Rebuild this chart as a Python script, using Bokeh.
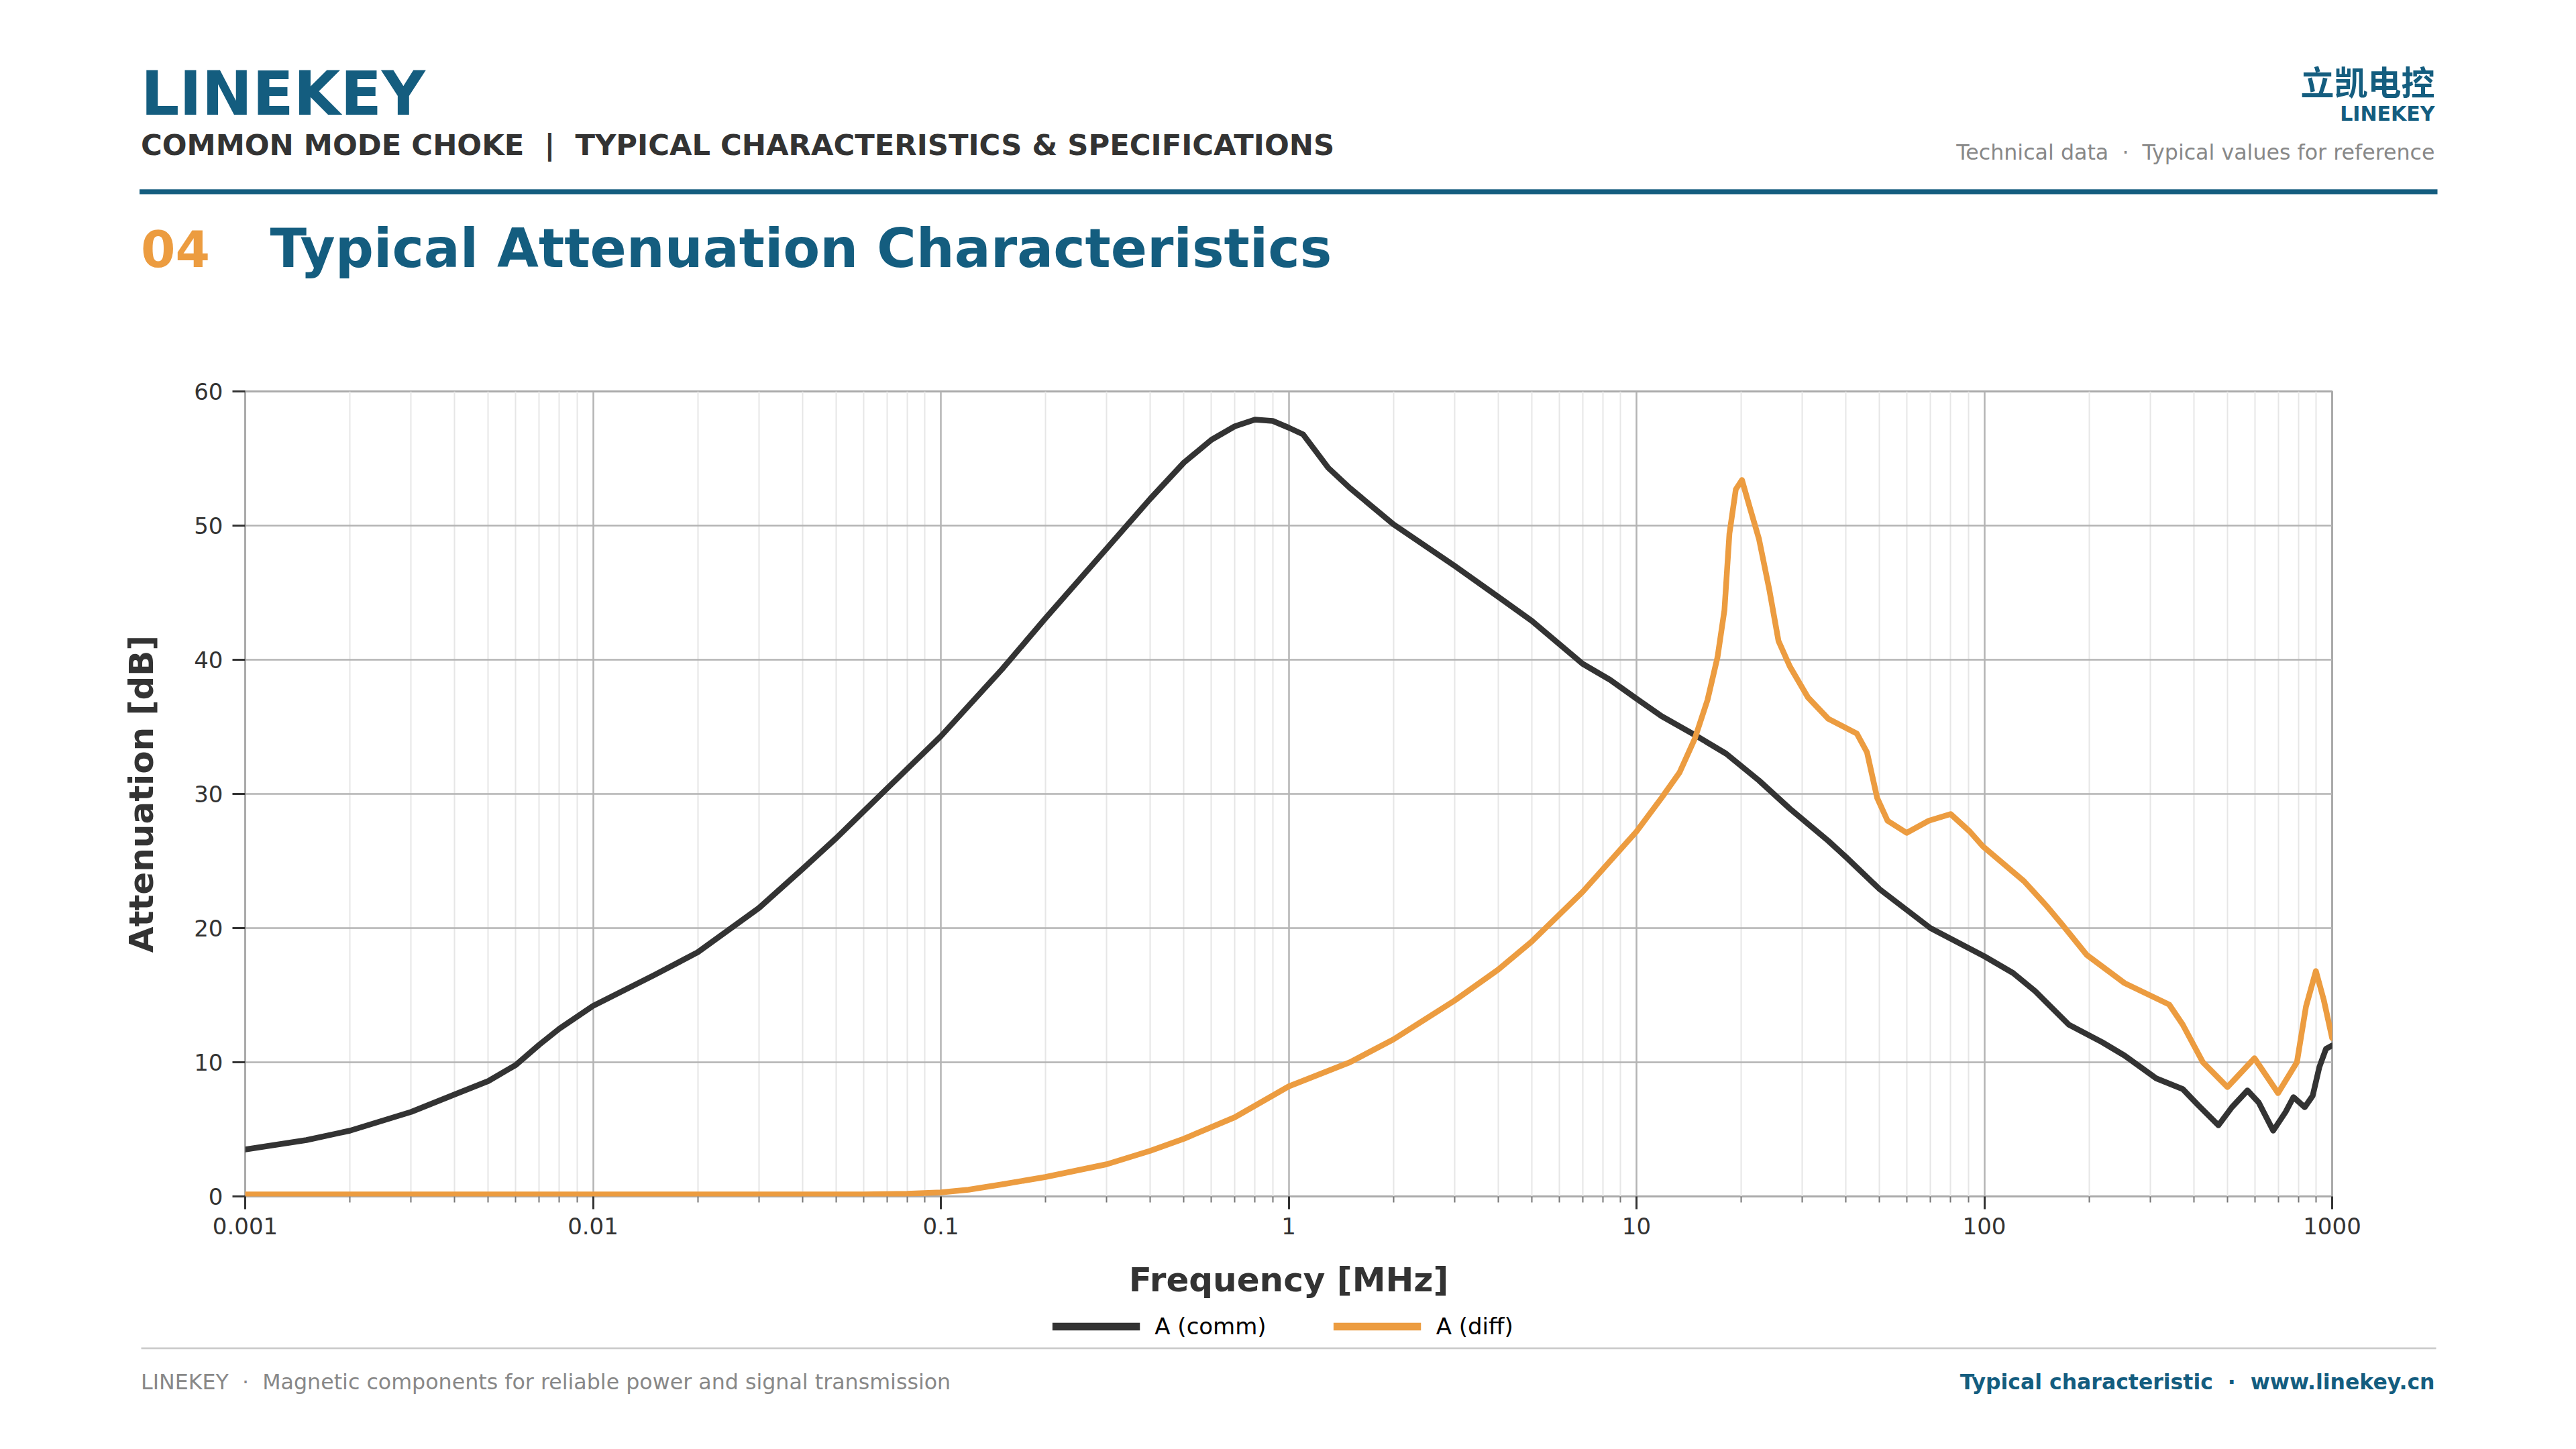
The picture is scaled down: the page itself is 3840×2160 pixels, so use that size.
from bokeh.plotting import figure
from bokeh.models import Range1d, FixedTicker, CustomJSTickFormatter, Legend, LegendItem
from bokeh.core.properties import value
from bokeh.embed import file_html
from bokeh.resources import INLINE

# ---------------- data ----------------
FREQ_COMM = [0.001, 0.0015, 0.002, 0.003, 0.004, 0.005, 0.006, 0.007, 0.008, 0.01,
             0.015, 0.02, 0.03, 0.04, 0.05, 0.07, 0.1, 0.15, 0.2, 0.3, 0.4, 0.5,
             0.6, 0.7, 0.8, 0.9, 1.0, 1.1, 1.2, 1.3, 1.5, 2, 3, 4, 5, 7, 8.4, 10,
             11.8, 14.7, 18.1, 22.5, 27.6, 35.6, 40, 50, 70, 100, 121, 140, 175, 218,
             253, 312, 372, 412, 471, 515, 571, 615, 677, 735, 774, 834, 879, 919,
             960, 1000]
ATT_COMM = [3.5, 4.2, 4.9, 6.3, 7.6, 8.6, 9.8, 11.3, 12.5, 14.2,
            16.5, 18.2, 21.5, 24.4, 26.7, 30.4, 34.3, 39.3, 43.1, 48.3, 52.0, 54.7,
            56.4, 57.4, 57.9, 57.8, 57.3, 56.8, 55.5, 54.3, 52.8, 50.1, 47.0, 44.7, 42.9, 39.7, 38.5, 37.1,
            35.8, 34.4, 33.0, 31.0, 28.9, 26.5, 25.3, 22.9, 20.0, 17.9, 16.65, 15.3, 12.8, 11.5,
            10.5, 8.8, 8.0, 6.8, 5.3, 6.65, 7.9, 7.0, 4.9, 6.3, 7.4, 6.65, 7.5, 9.65,
            11.0, 11.25]

FREQ_DIFF = [0.001, 0.003, 0.01, 0.03, 0.06, 0.08, 0.1, 0.12, 0.15, 0.2, 0.3, 0.4, 0.5,
             0.7, 1, 1.5, 2, 3, 4, 5, 7, 8.4, 10, 11.8, 13.3, 14.7, 16.0, 17.1, 17.9,
             18.5, 19.3, 20.1, 21.2, 22.5, 24.1, 25.6, 27.6, 31.1, 35.6, 43.0, 46.0,
             49.2, 52.7, 59.8, 69.2, 80, 90.8, 99, 130, 151, 167, 197, 253, 340, 372,
             425, 500, 598, 699, 792, 841, 898, 946, 1000]
ATT_DIFF = [0.15, 0.15, 0.15, 0.15, 0.15, 0.2, 0.3, 0.5, 0.9, 1.45, 2.4, 3.4, 4.3,
            5.9, 8.2, 10.0, 11.7, 14.6, 16.9, 19.0, 22.7, 25.0, 27.2, 29.7, 31.6, 34.1, 37.0, 40.2, 43.7,
            49.4, 52.7, 53.4, 51.3, 49.0, 45.2, 41.4, 39.5, 37.2, 35.6, 34.5, 33.1,
            29.7, 28.0, 27.1, 28.0, 28.5, 27.2, 26.1, 23.5, 21.65, 20.3, 18.0, 15.9, 14.3, 12.8,
            10.0, 8.15, 10.3, 7.7, 10.0, 14.15, 16.8, 14.65, 11.8]

SERIES_LABELS = ["A (comm)", "A (diff)"]
X_TICKS = [0.001, 0.01, 0.1, 1, 10, 100, 1000]
X_TICK_LABELS = ["0.001", "0.01", "0.1", "1", "10", "100", "1000"]
X_MINOR_MULT = [2, 3, 4, 5, 6, 7, 8, 9]
Y_TICKS = [0, 10, 20, 30, 40, 50, 60]

# ---------------- styles ----------------
TEAL = "#145D7F"
ORANGE = "#EC9C40"
DARK = "#333333"
GRAY_TXT = "#888888"
FONT = "DejaVu Sans"
CJK = "Noto Sans CJK SC"
NB = "\u00a0"

W = 3824
HEAD_H = 470
MAIN_H = 1485
FOOT_H = 2144 - HEAD_H - MAIN_H


def blank(h):
    f = figure(width=W, height=h, x_range=Range1d(0, W), y_range=Range1d(h, 0),
               min_border=0, toolbar_location=None, output_backend="svg",
               x_axis_location=None, y_axis_location=None)
    f.grid.visible = False
    f.outline_line_color = None
    f.background_fill_color = "white"
    f.border_fill_color = "white"
    return f


def txt(f, x, y, s, size, color, bold=False, align="left", font=FONT):
    f.text(x=[x], y=[y], text=[s], text_font=value(font), text_font_size=value(size),
           text_font_style="bold" if bold else "normal", text_color=color,
           text_align=align, text_baseline="alphabetic")


# ---------------- header ----------------
head = blank(HEAD_H)
txt(head, 209.5, 138.5, "LINEKEY", "90px", TEAL, bold=True)
txt(head, 209.5, 215.4, "COMMON MODE CHOKE " + NB + "|" + NB + " TYPICAL CHARACTERISTICS & SPECIFICATIONS",
    "43.3px", DARK, bold=True)
txt(head, 3629, 119, "立凯电控", "50px", TEAL, bold=True, align="right", font=CJK)
txt(head, 3629, 168.6, "LINEKEY", "30px", TEAL, bold=True, align="right")
txt(head, 3629, 226.8, "Technical data " + NB + "\u00b7" + NB + " Typical values for reference", "31.7px",
    GRAY_TXT, align="right")
head.quad(left=[207.5], right=[3633], top=[281.7], bottom=[289], fill_color=TEAL, line_color=None)
txt(head, 209.5, 370, "04", "74px", ORANGE, bold=True)
txt(head, 402, 370, "Typical Attenuation Characteristics", "80px", TEAL, bold=True)

# ---------------- main chart ----------------
p = figure(width=W, height=MAIN_H, x_axis_type="log",
           x_range=Range1d(X_TICKS[0], X_TICKS[-1]), y_range=Range1d(Y_TICKS[0], Y_TICKS[-1]),
           min_border_left=365, min_border_right=348, min_border_top=113, min_border_bottom=172,
           toolbar_location=None, output_backend="svg")
p.background_fill_color = "white"
p.border_fill_color = "white"
p.outline_line_color = "#aaaaaa"
p.outline_line_width = 3

minor = [m * t for t in X_TICKS[:-1] for m in X_MINOR_MULT]
p.xaxis.ticker = FixedTicker(ticks=X_TICKS, minor_ticks=minor)
p.xaxis.formatter = CustomJSTickFormatter(
    args=dict(vals=X_TICKS, labs=X_TICK_LABELS),
    code="""
    for (let i = 0; i < vals.length; i++) {
        if (Math.abs(Math.log10(vals[i]) - Math.log10(tick)) < 1e-6) return labs[i];
    }
    return '';
    """)
p.yaxis.ticker = FixedTicker(ticks=Y_TICKS, minor_ticks=[])

for ax in (p.xaxis, p.yaxis):
    ax.axis_line_color = None
    ax.major_tick_line_color = DARK
    ax.major_tick_line_width = 3
    ax.major_tick_out = 19
    ax.major_tick_in = 0
    ax.major_label_text_font = FONT
    ax.major_label_text_font_size = "34px"
    ax.major_label_text_color = DARK
    ax.axis_label_text_font = FONT
    ax.axis_label_text_font_size = "50px"
    ax.axis_label_text_font_style = "bold"
    ax.axis_label_text_color = DARK

p.xaxis.minor_tick_line_color = "#777777"
p.xaxis.minor_tick_line_width = 2
p.xaxis.minor_tick_out = 9
p.xaxis.minor_tick_in = 0
p.yaxis.minor_tick_line_color = None
p.xaxis.major_label_standoff = 12
p.yaxis.major_label_standoff = 14
p.xaxis.axis_label = "Frequency [MHz]"
p.yaxis.axis_label = "Attenuation [dB]"
p.xaxis.axis_label_standoff = 36
p.yaxis.axis_label_standoff = 46

p.xgrid.grid_line_color = "#b4b4b4"
p.xgrid.grid_line_width = 2.5
p.xgrid.minor_grid_line_color = "#e6e6e6"
p.xgrid.minor_grid_line_width = 2
p.ygrid.grid_line_color = "#b4b4b4"
p.ygrid.grid_line_width = 2.5

p.line(FREQ_COMM, ATT_COMM, line_color=DARK, line_width=8.5,
       line_join="round", line_cap="round")
p.line(FREQ_DIFF, ATT_DIFF, line_color=ORANGE, line_width=8.5,
       line_join="round", line_cap="round")

# ---------------- legend + footer (starts at y = 1955) ----------------
foot = blank(FOOT_H)
# hidden copies of the two series that only serve as legend keys
k_comm = foot.line(FREQ_COMM, ATT_COMM, line_color=DARK, line_width=11.6, visible=False)
k_diff = foot.line(FREQ_DIFF, ATT_DIFF, line_color=ORANGE, line_width=11.6, visible=False)
legend = Legend(items=[LegendItem(label=SERIES_LABELS[0], renderers=[k_comm]),
                       LegendItem(label=SERIES_LABELS[1], renderers=[k_diff])],
                orientation="horizontal", location="top")
legend.label_text_font = FONT
legend.label_text_font_size = "34px"
legend.label_text_color = "black"
legend.glyph_width = 131
legend.glyph_height = 20
legend.label_standoff = 22
legend.spacing = 100
legend.padding = 0
legend.margin = 2
legend.border_line_color = None
legend.background_fill_alpha = 0
foot.add_layout(legend)

foot.quad(left=[210], right=[3631], top=[53], bottom=[55.7], fill_color="#cccccc", line_color=None)
txt(foot, 209.5, 104, "LINEKEY " + NB + "\u00b7" + NB + " Magnetic components for reliable power and signal transmission",
    "31.7px", GRAY_TXT)
txt(foot, 3629, 104, "Typical characteristic " + NB + "\u00b7" + NB + " www.linekey.cn", "31.5px", TEAL,
    bold=True, align="right")

open("out.html", "w").write(file_html([head, p, foot], INLINE))
